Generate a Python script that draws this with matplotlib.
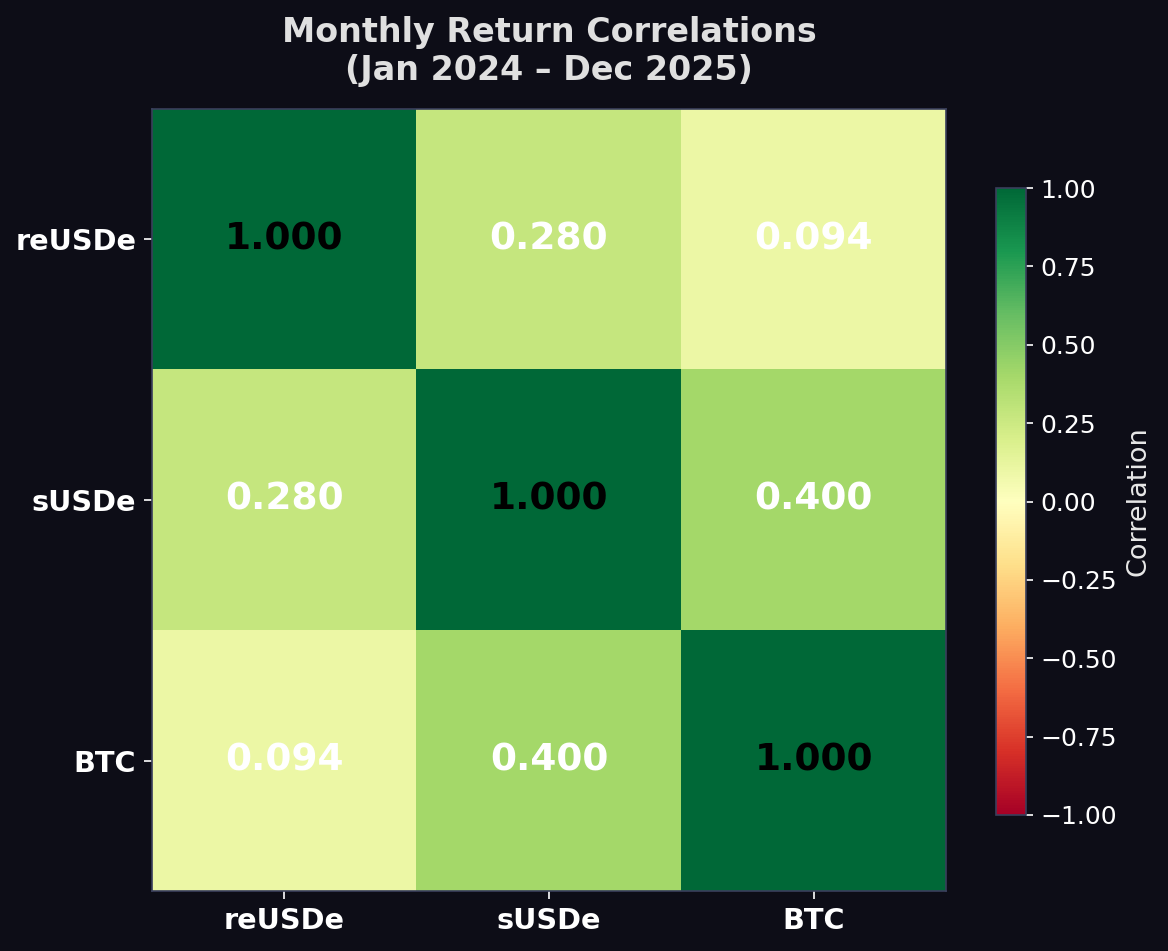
import matplotlib
matplotlib.use("Agg")
import matplotlib.pyplot as plt
import numpy as np

labels = ["reUSDe", "sUSDe", "BTC"]
corr = [
    [1.000, 0.280, 0.094],
    [0.280, 1.000, 0.400],
    [0.094, 0.400, 1.000],
]

BG = "#0d0d17"
SPINE = "#3a3f5c"

fig = plt.figure(figsize=(1168/150, 951/150), dpi=150, facecolor=BG)
ax = fig.add_axes([152/1168, 1-891/951, (946-152)/1168, (891-109)/951])
ax.set_facecolor(BG)
data = np.array(corr)
im = ax.imshow(data, cmap="RdYlGn", vmin=-1, vmax=1, aspect="auto")

ax.set_xticks(range(len(labels)))
ax.set_yticks(range(len(labels)))
ax.set_xticklabels(labels, fontsize=13.8, fontweight="bold", color="white")
ax.set_yticklabels(labels, fontsize=13.8, fontweight="bold", color="white")
ax.tick_params(colors="white", length=4)
for s in ax.spines.values():
    s.set_color(SPINE)

for i in range(len(labels)):
    for j in range(len(labels)):
        v = data[i, j]
        col = "black" if v > 0.7 else "white"
        ax.text(j, i, f"{v:.3f}", ha="center", va="center", fontsize=18,
                fontweight="bold", color=col)

ax.set_title("Monthly Return Correlations\n(Jan 2024 \u2013 Dec 2025)", fontsize=16,
             fontweight="bold", color="#e0e0e0", pad=14)

cax = fig.add_axes([996/1168, 1-815/951, 30/1168, (815-188)/951])
cb = fig.colorbar(im, cax=cax)
cb.set_ticks([-1, -0.75, -0.5, -0.25, 0, 0.25, 0.5, 0.75, 1.0])
cb.ax.tick_params(colors="white", labelsize=12)
cb.outline.set_edgecolor(SPINE)
cb.set_label("Correlation", color="#e8e8e8", fontsize=13)

fig.savefig("out.png", dpi=150, facecolor=BG)
